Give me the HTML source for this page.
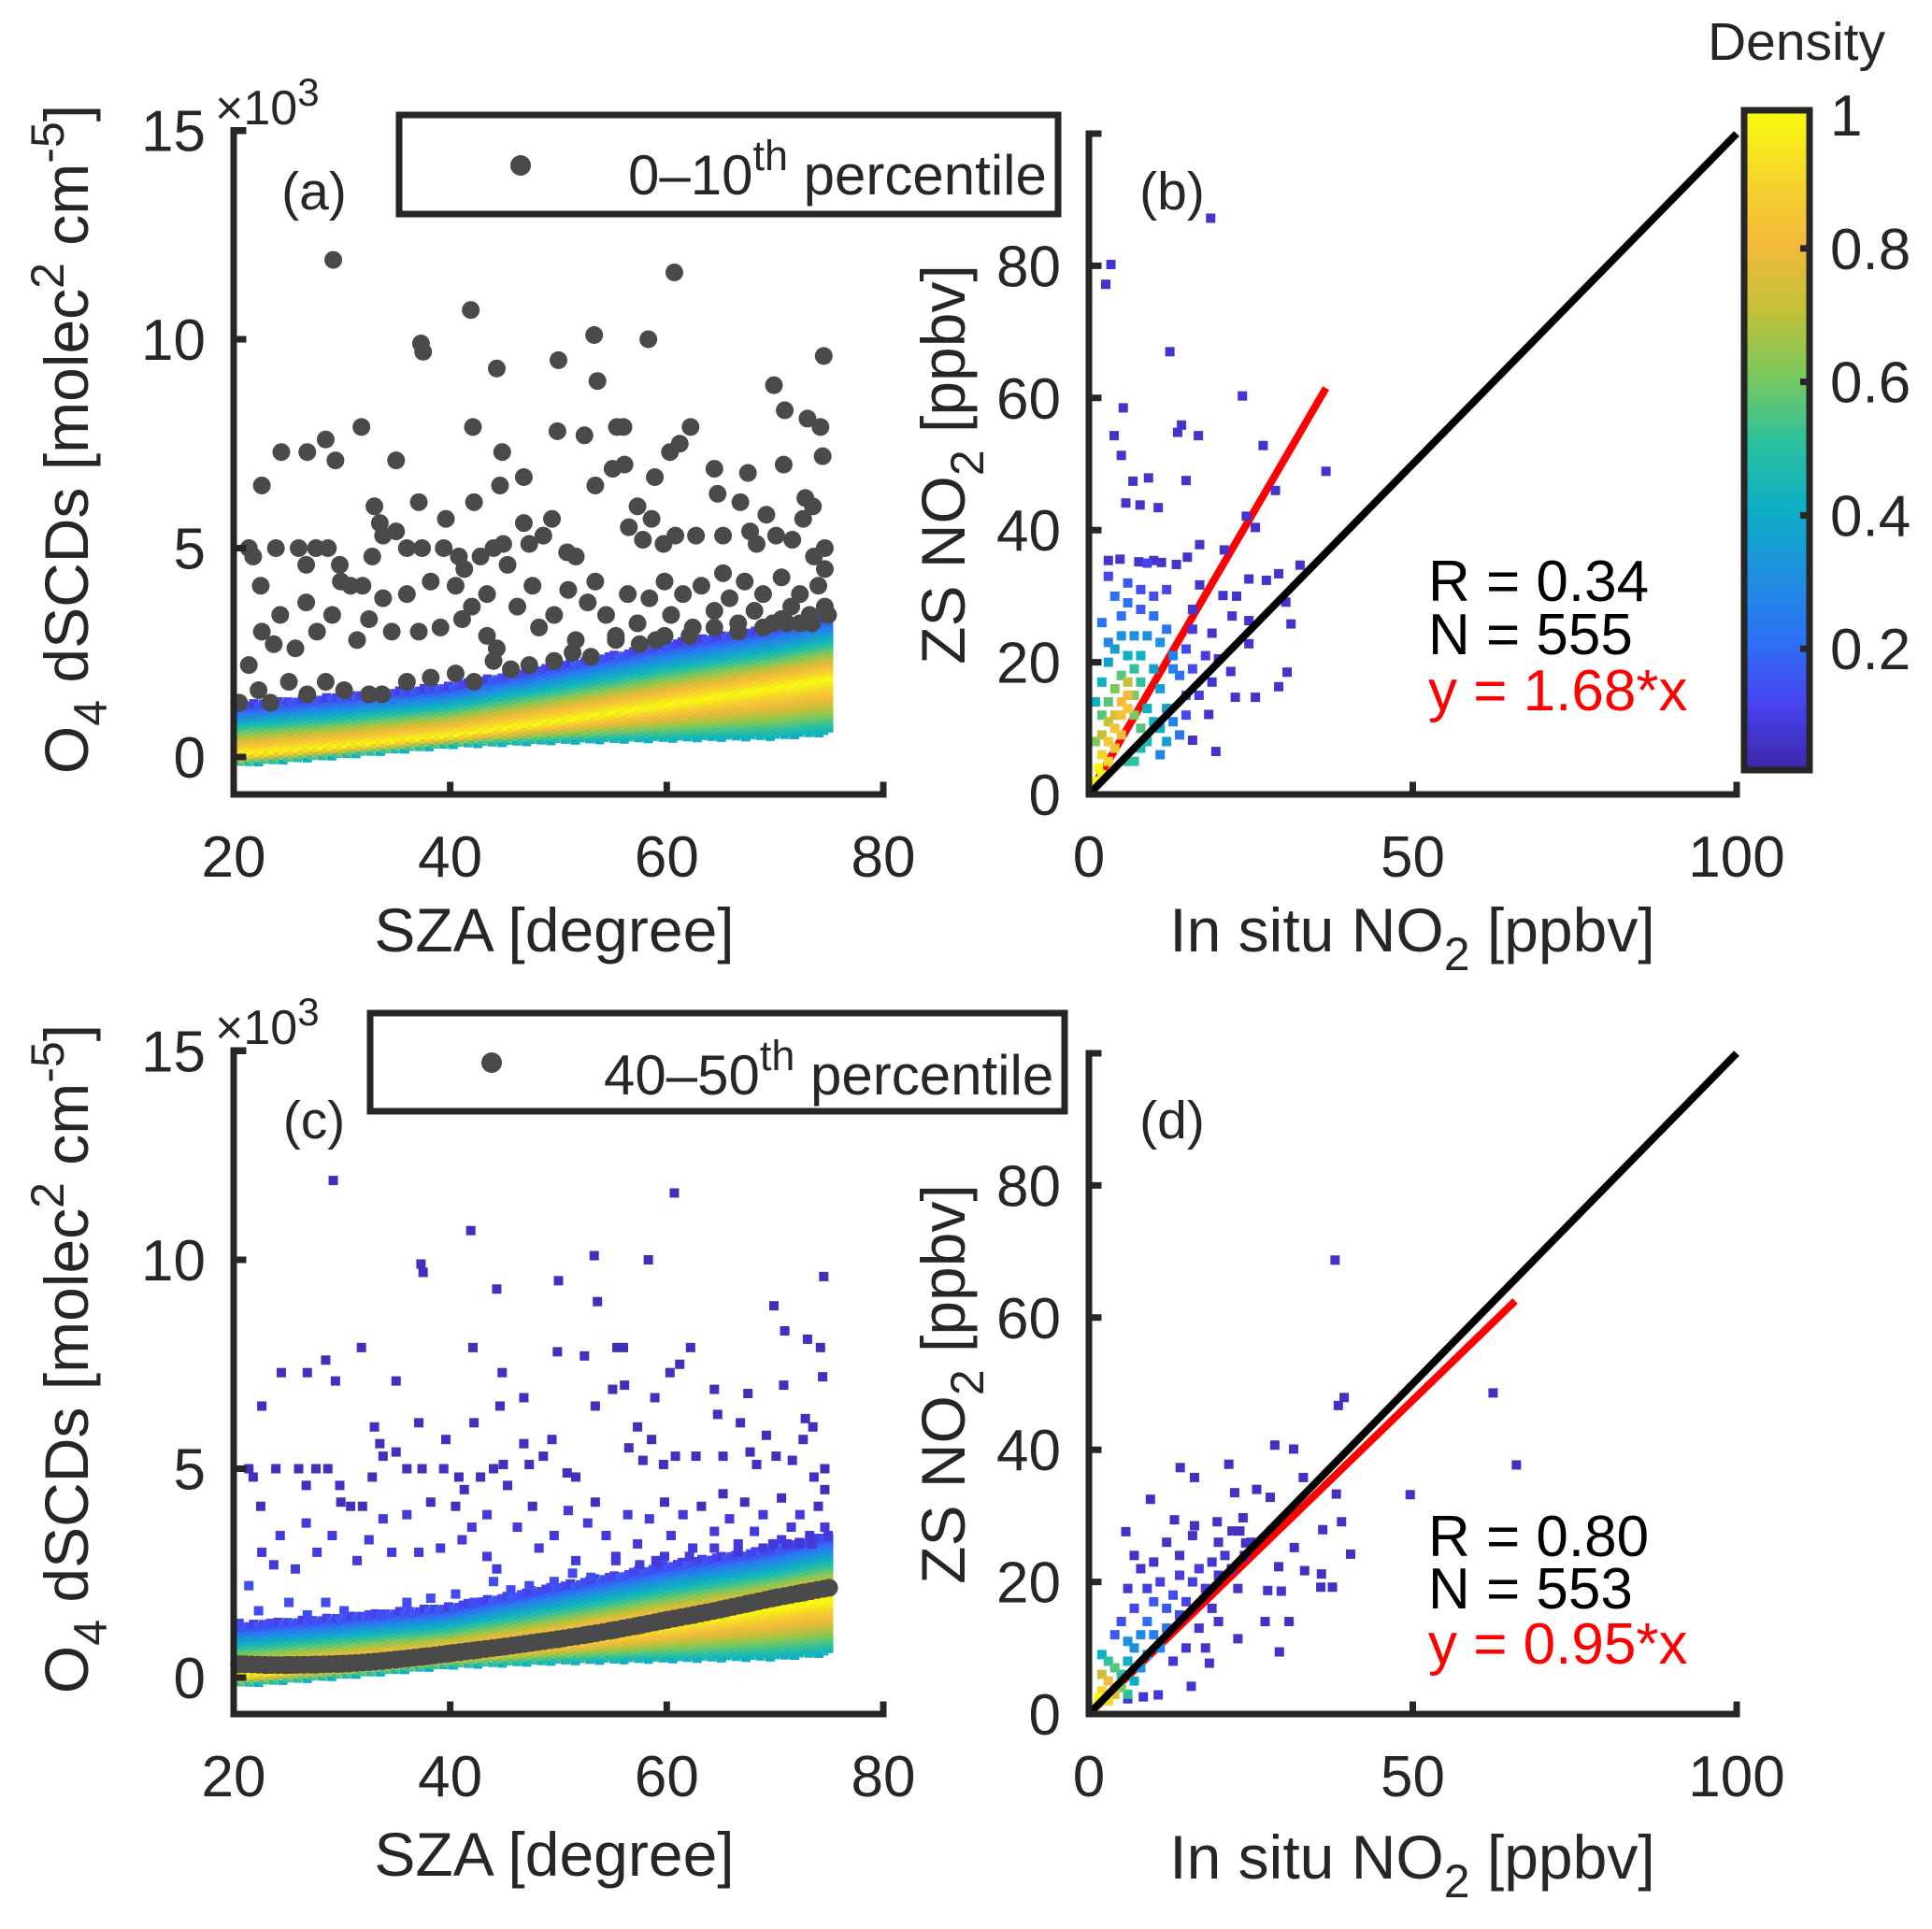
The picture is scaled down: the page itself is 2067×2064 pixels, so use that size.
<!DOCTYPE html>
<html><head><meta charset="utf-8"><style>
html,body{margin:0;padding:0;background:#fff;}
svg{display:block;font-family:"Liberation Sans",Arial,sans-serif;}
</style></head><body>
<svg id="fig" width="2067" height="2064" viewBox="0 0 2067 2064" xmlns="http://www.w3.org/2000/svg">
<rect width="2067" height="2064" fill="#fff"/>
<g id="marks"></g>
<g id="texts" fill="#262626">
  <text x="336" y="224" font-size="57" text-anchor="middle">(a)</text>
  <text x="230" y="133" font-size="52">×10<tspan dy="-20" font-size="42">3</tspan></text>
  <text x="593" y="1018" font-size="66" text-anchor="middle">SZA [degree]</text>
  <text transform="translate(94,470) rotate(-90)" font-size="66" text-anchor="middle">O<tspan dy="20" font-size="50">4</tspan><tspan dy="-20"> dSCDs [molec</tspan><tspan dy="-26" font-size="50">2</tspan><tspan dy="26"> cm</tspan><tspan dy="-26" font-size="50">-5</tspan><tspan dy="26">]</tspan></text>
  <text x="336" y="1218" font-size="57" text-anchor="middle">(c)</text>
  <text x="230" y="1117" font-size="52">×10<tspan dy="-20" font-size="42">3</tspan></text>
  <text x="593" y="2007" font-size="66" text-anchor="middle">SZA [degree]</text>
  <text transform="translate(94,1454) rotate(-90)" font-size="66" text-anchor="middle">O<tspan dy="20" font-size="50">4</tspan><tspan dy="-20"> dSCDs [molec</tspan><tspan dy="-26" font-size="50">2</tspan><tspan dy="26"> cm</tspan><tspan dy="-26" font-size="50">-5</tspan><tspan dy="26">]</tspan></text>
  <text x="1254" y="224" font-size="57" text-anchor="middle">(b)</text>
  <text x="1511" y="1018" font-size="66" text-anchor="middle">In situ NO<tspan dy="20" font-size="50">2</tspan><tspan dy="-20"> [ppbv]</tspan></text>
  <text transform="translate(1032,497) rotate(-90)" font-size="66" text-anchor="middle">ZS NO<tspan dy="20" font-size="50">2</tspan><tspan dy="-20"> [ppbv]</tspan></text>
  <text x="1528" y="643" font-size="62" fill="#000">R = 0.34</text>
  <text x="1528" y="700" font-size="62" fill="#000">N = 555</text>
  <text x="1528" y="760" font-size="62" fill="#ff0000">y = 1.68*x</text>
  <text x="1254" y="1218" font-size="57" text-anchor="middle">(d)</text>
  <text x="1511" y="2010" font-size="66" text-anchor="middle">In situ NO<tspan dy="20" font-size="50">2</tspan><tspan dy="-20"> [ppbv]</tspan></text>
  <text transform="translate(1032,1481) rotate(-90)" font-size="66" text-anchor="middle">ZS NO<tspan dy="20" font-size="50">2</tspan><tspan dy="-20"> [ppbv]</tspan></text>
  <text x="1528" y="1665" font-size="62" fill="#000">R = 0.80</text>
  <text x="1528" y="1721" font-size="62" fill="#000">N = 553</text>
  <text x="1528" y="1780" font-size="62" fill="#ff0000">y = 0.95*x</text>
  <text x="1922" y="64" font-size="57" text-anchor="middle">Density</text>
</g>
<g>
  <rect x="427" y="123" width="705" height="106" fill="#fff" stroke="#262626" stroke-width="7"/>
  <circle cx="557" cy="177" r="11" fill="#4a4a4a"/>
  <text x="672" y="208" font-size="60" fill="#262626">0–10<tspan dy="-26" font-size="45">th</tspan><tspan dy="26"> percentile</tspan></text>
</g>
<g>
  <rect x="396" y="1084" width="743" height="105" fill="#fff" stroke="#262626" stroke-width="7"/>
  <circle cx="526" cy="1137" r="11" fill="#4a4a4a"/>
  <text x="646" y="1171" font-size="60" fill="#262626">40–50<tspan dy="-26" font-size="45">th</tspan><tspan dy="26"> percentile</tspan></text>
</g>
<defs>
  <linearGradient id="parula" x1="0" y1="1" x2="0" y2="0">
    <stop offset="0" stop-color="#3e26a8"/>
    <stop offset="0.1" stop-color="#4743ef"/>
    <stop offset="0.2" stop-color="#2c72f5"/>
    <stop offset="0.3" stop-color="#1e91de"/>
    <stop offset="0.4" stop-color="#0dafc4"/>
    <stop offset="0.5" stop-color="#2ec19c"/>
    <stop offset="0.6" stop-color="#7cc85c"/>
    <stop offset="0.7" stop-color="#c4c038"/>
    <stop offset="0.8" stop-color="#f4ba3c"/>
    <stop offset="0.9" stop-color="#f5d62a"/>
    <stop offset="1" stop-color="#f9fb0e"/>
  </linearGradient>
</defs>
<g>
  <rect x="1866" y="118" width="70" height="706" fill="url(#parula)" stroke="#262626" stroke-width="7"/>
</g>
</svg>
<script>
const aSza = [29.2,60.7,41.9,37.3,37.5,53.3,58.3,50,44.3,53.6,74.5,69.9,70.9,73,74.2,31.8,28.5,26.8,24.4,29.4,35,42.1,49.9,52.4,55.4,56,62.2,61.2,60.3,44.8,46.8,56.1,55,64.4,67.5,74.4,70.8,22.6,53.4,58.9,44.6,42.2,37.1,33,39.6,49.4,58.6,33.5,46.8,57.3,64.7,66.8,69.2,72.8,72.6,73.5,
21.4,21.8,23.9,26,27.6,28.7,26.7,29.8,32.8,33.8,35,36,37.4,39.4,40.8,41.3,42.8,44,44.9,45.3,47.3,48.6,50.8,51.6,56.5,57.8,59.7,60.8,62.7,65.2,67.7,68.3,70.1,71.6,74.6,73.6,74.6,
22.5,26.7,24.3,22.6,21.4,20.5,23.7,25.7,27.7,29.1,29.9,30.8,31.9,31.4,32.5,33.8,34.6,36,37.1,38.2,39.1,40.5,41.1,42,43.4,43.4,44.3,46.2,47.6,48.2,49.6,50.9,51.6,52.7,53.4,54.4,55.3,56.4,57.3,58.4,59,59.8,60.4,61.5,62.4,63.2,64.4,65.2,65.8,66.6,67.2,68.1,68.9,69.8,70.6,71.5,72.3,73.2,74,74.6,72.3,70.6,
22.3,23.4,25.1,26.8,28.5,30.2,32.5,33.7,36,38.2,40.5,42.2,44,45.6,47.3,49.6,51.3,53,55.3,57.5,59.8,62.1,64.4,66.6,68.9,71.1,73.4,74.9];
const aVal = [11.9,11.6,10.7,9.9,9.7,10.1,10.0,9.5,9.3,9.0,9.6,8.9,8.3,8.1,7.9,7.9,7.6,7.3,7.3,7.1,7.1,7.9,7.8,7.7,7.9,7.9,7.9,7.5,7.3,7.3,6.7,7.0,6.9,6.9,6.8,7.2,7.0,6.5,6.5,6.7,6.5,6.1,6.1,6.0,5.7,5.7,5.7,5.6,5.6,6.0,6.3,6.1,5.8,6.2,5.7,6.0,
5.0,4.8,5.0,5.0,5.0,5.0,4.6,4.6,4.8,5.3,5.4,5.0,5.0,5.0,4.8,4.5,4.8,5.0,5.1,4.6,5.1,5.3,4.9,4.8,5.5,5.2,5.1,5.3,5.3,5.3,5.4,5.1,5.3,5.2,5.0,4.8,4.5,
4.1,3.7,3.4,3.0,2.2,1.3,2.7,2.6,3.0,3.4,4.2,4.1,4.1,2.8,3.3,3.8,3.0,3.9,3.0,4.2,3.1,4.1,3.3,3.6,3.9,2.9,2.6,3.6,4.1,3.1,3.4,4.0,2.8,3.7,4.2,3.4,2.9,3.9,3.2,3.8,2.8,4.2,3.4,3.9,3.1,4.1,3.5,4.4,3.8,3.2,4.2,3.5,3.9,3.2,4.3,3.6,3.9,3.4,4.1,3.6,3.2,3.3,
1.6,1.3,1.8,1.5,1.8,1.6,1.5,1.5,1.8,1.9,2.0,1.8,2.3,2.1,2.2,2.3,2.5,2.4,2.8,2.7,2.9,2.9,3.1,3.0,3.1,3.2,3.2,3.4];
const bandSza  = [20.5, 30, 40, 50, 60, 70, 75];
const bandLow  = [-0.15, 0.05, 0.3, 0.4, 0.45, 0.5, 0.6];
const bandMid  = [0.1, 0.3, 0.55, 0.9, 1.3, 1.7, 1.9];
const bandHigh = [1.25, 1.45, 1.7, 2.2, 2.7, 3.1, 3.4];
const cSza = [20.5,21,23,25,27.5,30,32.5,35,37.5,40,42.5,45,47.5,50,52.5,55,57.5,60,62.5,65,67.5,70,72.5,75];
const cVal = [0.32,0.32,0.30,0.30,0.31,0.33,0.37,0.43,0.5,0.58,0.66,0.74,0.83,0.92,1.02,1.13,1.25,1.38,1.5,1.63,1.77,1.91,2.03,2.15];
const bX = [18.8,3.4,2.6,12.5,23.7,5.3,14.3,13.7,16.9,3.9,26.9,5,36.6,6.8,9.2,15,28.8,5.7,7.9,10.7,24.3,20.9,25.7,3,4.8,7.7,10,11.2,13.5,15.2,17.1,32.6,29.3,24.7,27.4,22.8,20.7,30.4,17.1,31.2,24.7,22.1,19,24.7,30.6,25.7,22.6,29.3,18.5,16,19.6,21.9,20,
1,1.5,2,2,3,3,4,4,5,5,6,6,5,4,6,3,2,7,7,8,8,7,5,4,3,2,1,
6,8,10,11,12,9,10,8,7,6,9,12,11,4,5,7,9,11,3,2,3,5,6,4,8,10,12,13,14,15,13,14,11,13,6,8,10,15,16,17,15,3,9,12,16,18,19,16,2,1];
const bY = [87.2,80.2,77.2,67,60.3,58.5,55.9,54.8,54.3,54.3,52.8,51.3,48.9,47.4,47.9,47.5,46,44.1,43.8,43.4,42.1,37,40.4,35.4,35.6,35.2,35.4,35.1,34.8,35.9,37.8,34.7,33.4,32.6,32.4,30,30.1,29.1,31.7,25.8,26.3,27,24.4,22.8,18.5,14.7,14.7,16.3,12.1,8.2,6.5,18.6,20.5,
2,4,3,6,5,8,7,10,12,14,15,13,9,12,17,11,9,12,15,10,17,19,18,16,14,12,8,
21,21,19,16,13,13,11,7,5,5,8,8,10,22,24,24,24,23,20,17,23,27,29,30,28,27,25,21,18,15,11,9,6,19,32,31,30,22,19,15,12,33,35,31,25,21,17,28,26,14];
const bD = [0.05,0.05,0.05,0.05,0.05,0.05,0.05,0.05,0.05,0.05,0.05,0.05,0.05,0.05,0.05,0.05,0.05,0.05,0.05,0.05,0.05,0.05,0.05,0.05,0.05,0.05,0.05,0.05,0.05,0.05,0.05,0.05,0.05,0.05,0.05,0.05,0.05,0.05,0.05,0.05,0.05,0.05,0.05,0.05,0.05,0.05,0.05,0.05,0.05,0.05,0.05,0.05,0.05,
1,1,0.95,0.9,0.9,0.85,0.85,0.85,0.82,0.8,0.8,0.85,0.8,0.75,0.7,0.7,0.7,0.6,0.6,0.55,0.5,0.5,0.55,0.6,0.55,0.55,0.6,
0.4,0.4,0.35,0.35,0.35,0.4,0.4,0.45,0.5,0.5,0.45,0.35,0.4,0.35,0.3,0.3,0.3,0.3,0.35,0.4,0.25,0.2,0.2,0.2,0.15,0.2,0.2,0.25,0.2,0.15,0.25,0.2,0.25,0.25,0.15,0.12,0.12,0.12,0.12,0.08,0.12,0.1,0.1,0.1,0.08,0.08,0.06,0.06,0.2,0.4];
const dX = [38,62.4,39.4,38.5,66,49.6,28.7,31.6,33.1,38.2,39,40.4,36.1,35.9,37.6,35.8,33.3,31.7,29.3,30.9,27.2,29.4,28,25.9,22.5,21.6,14.1,16.3,9.5,13.2,16.3,19.8,22.1,23.3,5.7,23.8,24.2,15.8,10.7,8.4,6,18.6,23,29.7,27.6,
1,1.5,2,3,3,4,2,5,4,6,3,5,6,7,2,7,8,9,6,10,11,8,9,12,12,10,14,13,15,16,17,18,14,19,20,21,11,9,7,5,6,4,22,24,23,25,19,17,15,13,20,18,8,10,14,12,7,16,20];
const dY = [68.7,48.6,47.9,46.7,37.7,33.2,40.7,40.1,35.8,33.3,29.1,24.2,27.9,21.2,19.2,19.2,21.7,25.2,22.3,14,14,9.4,32.8,34,33.5,37.8,37.3,35.8,32.5,29.4,28.5,29.1,27.7,27.7,27.6,29.7,25.9,4.2,2.9,2.6,2.3,7.7,11.4,18.6,18.7,
1,2.5,3.5,2,5,3,6,4,7,3,8,6,8,5,9,10,7,9,11,12,10,12,14,13,16,17,15,18,17,20,22,19,21,23,21,24,20,19,16,14,19,12,22,24,19,26,16,13,10,8,14,10,22,23,24,26,24,27,26];
const dD = [0.04,0.04,0.04,0.04,0.04,0.04,0.04,0.04,0.04,0.04,0.04,0.04,0.04,0.04,0.04,0.04,0.04,0.04,0.04,0.04,0.04,0.04,0.04,0.04,0.04,0.04,0.04,0.04,0.04,0.04,0.04,0.04,0.04,0.04,0.04,0.04,0.04,0.06,0.06,0.06,0.06,0.05,0.05,0.05,0.05,
1,1,0.9,0.9,0.8,0.75,0.7,0.6,0.55,0.5,0.5,0.5,0.4,0.4,0.4,0.3,0.3,0.3,0.3,0.25,0.25,0.28,0.2,0.2,0.15,0.15,0.12,0.12,0.1,0.08,0.08,0.08,0.08,0.06,0.06,0.06,0.08,0.08,0.1,0.12,0.06,0.15,0.05,0.05,0.05,0.05,0.05,0.05,0.06,0.06,0.05,0.05,0.05,0.05,0.05,0.05,0.05,0.05,0.05];
const fitB = 1.68, fitBmax = 36.6;
const fitD = 0.95, fitDmax = 65.8;
const aYTicks = [0,5,10,15], aYTickLabels = ['0','5','10','15'];
const aXTicks = [20,40,60,80], aXTickLabels = ['20','40','60','80'];
const bYTicks = [0,20,40,60,80], bYTickLabels = ['0','20','40','60','80'];
const bXTicks = [0,50,100], bXTickLabels = ['0','50','100'];
const cbTicks = [0.2,0.4,0.6,0.8,1], cbTickLabels = ['0.2','0.4','0.6','0.8','1'];

const NS = 'http://www.w3.org/2000/svg';
const marks = document.getElementById('marks');
const svg = document.getElementById('fig');
function mk(tag, attrs, parent){ const e=document.createElementNS(NS,tag); for(const k in attrs) e.setAttribute(k,attrs[k]); (parent||marks).appendChild(e); return e; }
const stops = [[62,38,168],[71,67,239],[44,114,245],[30,145,222],[13,175,196],[46,193,156],[124,200,92],[196,192,56],[244,186,60],[245,214,42],[249,251,14]];
function parula(t){ t=Math.max(0,Math.min(1,t)); const p=t*10, i=Math.min(9,Math.floor(p)), f=p-i; const a=stops[i], b=stops[i+1]; return 'rgb('+a.map((v,k)=>Math.round(v+(b[k]-v)*f)).join(',')+')'; }
function interp(xs, ys, x){ if(x<=xs[0]) return ys[0]; for(let i=1;i<xs.length;i++){ if(x<=xs[i]){ const f=(x-xs[i-1])/(xs[i]-xs[i-1]); return ys[i-1]+f*(ys[i]-ys[i-1]); } } return ys[ys.length-1]; }

const panels = {
  a:{ x:v=>250+(v-20)*(695/60), y:v=>810-v*44.7, bottom:850, left:250, right:945, top:140 },
  c:{ x:v=>250+(v-20)*(695/60), y:v=>1795-v*44.7, bottom:1834, left:250, right:945, top:1124 },
  b:{ x:v=>1165+v*6.93, y:v=>850-v*7.07, bottom:850, left:1165, right:1858, top:143 },
  d:{ x:v=>1165+v*6.93, y:v=>1834-v*7.07, bottom:1834, left:1165, right:1858, top:1127 }
};

function drawBand(P, name){
  const g = mk('g',{});
  
  
  let col = 0;
  for(let s=bandSza[0]; s<=bandSza[bandSza.length-1]+0.01; s+=0.45){
    col++;
    const lo=interp(bandSza,bandLow,s), mid=interp(bandSza,bandMid,s), hi=interp(bandSza,bandHigh,s);
    const off = ((col*7)%5)*0.025;
    for(let v=lo+off; v<=hi; v+=0.11){
      let d = v>=mid ? 1-0.92*(v-mid)/(hi-mid) : 1-0.6*(mid-v)/(mid-lo);
      const r = mk('rect',{x:(P.x(s)-5).toFixed(1), y:(P.y(v)-5).toFixed(1), width:10, height:10, fill:parula(d)}, g);
      
      
    }
  }
}

drawBand(panels.a, 'panel-a-density-band');
aSza.forEach((s,i)=>{
  const c = mk('circle',{cx:panels.a.x(s), cy:panels.a.y(aVal[i]), r:9.5, fill:'#4a4a4a'});
  
  
});
drawBand(panels.c, 'panel-c-density-band');
aSza.forEach((s,i)=>{
  const d = aVal[i] > 4 ? 0.03 : (aVal[i] > 2.5 ? 0.07 : 0.12);
  const r = mk('rect',{x:panels.c.x(s)-5, y:panels.c.y(aVal[i])-5, width:10, height:10, fill:parula(d)});
  
  
});
cSza.forEach((s,i)=>{
  const c = mk('circle',{cx:panels.c.x(s), cy:panels.c.y(cVal[i]), r:9.5, fill:'#4a4a4a'});
  
  
});
for(let s=cSza[0]; s<=cSza[cSza.length-1]; s+=0.6){
  const c = mk('circle',{cx:panels.c.x(s), cy:panels.c.y(interp(cSza,cVal,s)), r:9.5, fill:'#4a4a4a'});
  
  
}

function scatterPanel(P, xs, ys, ds, slope, xmax, pname){
  const red = mk('line',{x1:P.x(0), y1:P.y(0), x2:P.x(xmax), y2:P.y(slope*xmax), stroke:'#ff0000', 'stroke-width':8});
  
  
  const idx = xs.map((_,i)=>i).sort((a,b)=>ds[a]-ds[b]);
  idx.forEach(i=>{
    const r = mk('rect',{x:P.x(xs[i])-5, y:P.y(ys[i])-5, width:10, height:10, fill:parula(ds[i])});
    
    
  });
  const blk = mk('line',{x1:P.x(0), y1:P.y(0), x2:P.x(100), y2:P.y(100), stroke:'#000', 'stroke-width':8});
  
  
}
scatterPanel(panels.b, bX, bY, bD, fitB, fitBmax, 'panel-b');
scatterPanel(panels.d, dX, dY, dD, fitD, fitDmax, 'panel-d');

function axes(P, pname, xt, xtl, yt, ytl){
  const g = mk('g',{stroke:'#262626','stroke-width':7,'stroke-linecap':'square',fill:'none'}, svg);
  
  
  mk('line',{x1:P.left,y1:P.bottom,x2:P.right,y2:P.bottom},g);
  mk('line',{x1:P.left,y1:P.bottom,x2:P.left,y2:P.top},g);
  xt.forEach(v=>{ mk('line',{x1:P.x(v),y1:P.bottom,x2:P.x(v),y2:P.bottom-10},g); });
  yt.forEach(v=>{ mk('line',{x1:P.left,y1:P.y(v),x2:P.left+10,y2:P.y(v)},g); });
  mk('line',{x1:P.left,y1:P.top,x2:P.left+10,y2:P.top},g);
  xt.forEach((v,i)=>{
    const t = mk('text',{x:P.x(v), y:P.bottom+88, 'font-size':62, 'text-anchor':'middle', fill:'#262626'}, svg);
    t.textContent = xtl[i];
    
    
  });
  yt.forEach((v,i)=>{
    const t = mk('text',{x:P.left-30, y:P.y(v)+22, 'font-size':62, 'text-anchor':'end', fill:'#262626'}, svg);
    t.textContent = ytl[i];
    
    
  });
}
axes(panels.a,'panel-a',aXTicks,aXTickLabels,aYTicks,aYTickLabels);
axes(panels.c,'panel-c',aXTicks,aXTickLabels,aYTicks,aYTickLabels);
axes(panels.b,'panel-b',bXTicks,bXTickLabels,bYTicks,bYTickLabels);
axes(panels.d,'panel-d',bXTicks,bXTickLabels,bYTicks,bYTickLabels);

const cbY = v => 837 - v*714;
cbTicks.forEach((v,i)=>{
  if(v<1){
    const l = mk('line',{x1:1926,y1:cbY(v),x2:1936,y2:cbY(v),stroke:'#262626','stroke-width':7}, svg);
    
    
  }
  const t = mk('text',{x:1958, y:cbY(v)+22, 'font-size':62, fill:'#262626'}, svg);
  t.textContent = cbTickLabels[i];
  
  
});
</script>
</body></html>
